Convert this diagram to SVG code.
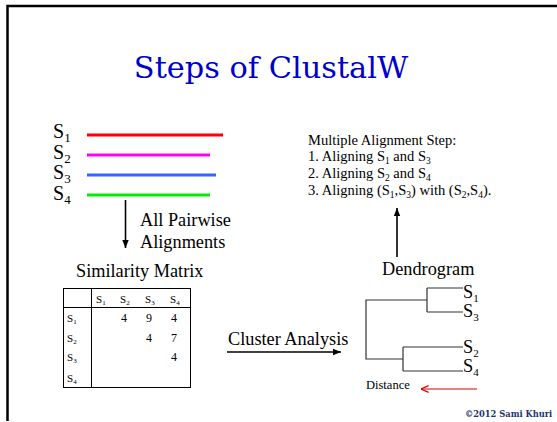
<svg xmlns="http://www.w3.org/2000/svg" width="557" height="422" viewBox="0 0 557 422">
  <style>
    text { font-family: "Liberation Serif", "Times New Roman", serif; fill: #000; }
    text.title { font-family: "DejaVu Serif", "Liberation Serif", serif; fill: #0000cc; font-size: 30.4px; }
    .lbl { font-size: 20px; }
    .mid { font-size: 18.3px; }
    .small { font-size: 14.5px; }
    .tbl { font-size: 12px; }
    .th { font-size: 11px; }
    .seq { stroke-width: 3; fill: none; }
    .tree { stroke: #333; stroke-width: 1.2; fill: none; }
    .conn { stroke: #000; stroke-width: 1.6; fill: none; }
    .grid { stroke: #000; stroke-width: 1; fill: none; }
    text.copy { font-family: "DejaVu Serif", "Liberation Serif", serif; font-size: 8.3px; font-weight: bold; fill: #1a3470; }
  </style>
  <defs>
    <marker id="ahead" viewBox="0 0 10 10" refX="10" refY="5" markerWidth="5" markerHeight="5" orient="auto">
      <path d="M0,1 L10,5 L0,9 Z" fill="#000"/>
    </marker>
    <marker id="ared" viewBox="0 0 10 10" refX="10" refY="5" markerWidth="7" markerHeight="7" orient="auto">
      <path d="M1,1 L10,5 L1,9" fill="none" stroke="#e00000" stroke-width="1.4"/>
    </marker>
  </defs>

  <rect width="557" height="422" fill="#fff"/>
  <!-- slide frame -->
  <path d="M7.5,421 V6 H557" fill="none" stroke="#000" stroke-width="2.5"/>

  <text class="title" x="271" y="78" text-anchor="middle">Steps of ClustalW</text>

  <!-- input sequences -->
  <g id="sequences">
    <text class="lbl" x="53" y="138">S<tspan font-size="13" dy="4">1</tspan></text>
    <text class="lbl" x="53" y="159">S<tspan font-size="13" dy="4">2</tspan></text>
    <text class="lbl" x="53" y="179">S<tspan font-size="13" dy="4">3</tspan></text>
    <text class="lbl" x="53" y="200">S<tspan font-size="13" dy="4">4</tspan></text>
    <line class="seq" x1="87" y1="135" x2="223" y2="135" stroke="#ff0000"/>
    <line class="seq" x1="87" y1="155" x2="210" y2="155" stroke="#ff00ff"/>
    <line class="seq" x1="87" y1="175" x2="216" y2="175" stroke="#3366ff"/>
    <line class="seq" x1="87" y1="195" x2="210" y2="195" stroke="#00ee00"/>
  </g>

  <g id="pairwise-label">
    <text class="mid" x="140" y="226">All Pairwise</text>
    <text class="mid" x="140" y="248">Alignments</text>
  </g>

  <!-- similarity matrix -->
  <g id="similarity-matrix">
    <text class="mid" x="76" y="277">Similarity Matrix</text>
    <rect class="grid" x="63.5" y="288.5" width="127" height="99"/>
    <line class="grid" x1="63.5" y1="307.5" x2="190.5" y2="307.5"/>
    <line class="grid" x1="91.5" y1="288.5" x2="91.5" y2="387.5"/>
    <g class="th">
      <text x="96" y="303">S<tspan font-size="7" dy="2">1</tspan></text>
      <text x="120" y="303">S<tspan font-size="7" dy="2">2</tspan></text>
      <text x="145" y="303">S<tspan font-size="7" dy="2">3</tspan></text>
      <text x="170" y="303">S<tspan font-size="7" dy="2">4</tspan></text>
      <text x="67" y="322">S<tspan font-size="7" dy="2">1</tspan></text>
      <text x="67" y="342">S<tspan font-size="7" dy="2">2</tspan></text>
      <text x="67" y="361">S<tspan font-size="7" dy="2">3</tspan></text>
      <text x="67" y="382">S<tspan font-size="7" dy="2">4</tspan></text>
    </g>
    <g class="tbl">
      <text x="121" y="322">4</text>
      <text x="146" y="322">9</text>
      <text x="171" y="322">4</text>
      <text x="146" y="342">4</text>
      <text x="171" y="342">7</text>
      <text x="171" y="361">4</text>
    </g>
  </g>

  <g id="cluster-label">
    <text class="mid" x="228" y="345">Cluster Analysis</text>
  </g>

  <!-- dendrogram -->
  <g id="dendrogram">
    <text class="mid" x="382" y="275">Dendrogram</text>
    <path class="tree" d="M427,300 H366 V359 H403 M427,288 V312 M427,288 H463 M427,312 H463 M403,347 V371 M403,347 H463 M403,371 H463"/>
    <text class="mid" x="463" y="298">S<tspan font-size="11" dy="4">1</tspan></text>
    <text class="mid" x="463" y="317">S<tspan font-size="11" dy="4">3</tspan></text>
    <text class="mid" x="463" y="353">S<tspan font-size="11" dy="4">2</tspan></text>
    <text class="mid" x="463" y="372">S<tspan font-size="11" dy="4">4</tspan></text>
    <text x="366" y="389" font-size="12.5">Distance</text>
  </g>

  <!-- multiple alignment step -->
  <g id="multiple-alignment">
    <text class="small" x="308" y="145">Multiple Alignment Step:</text>
    <text class="small" x="308" y="161">1. Aligning S<tspan font-size="9.5" dy="3">1</tspan><tspan dy="-3"> and S</tspan><tspan font-size="9.5" dy="3">3</tspan></text>
    <text class="small" x="308" y="178">2. Aligning S<tspan font-size="9.5" dy="3">2</tspan><tspan dy="-3"> and S</tspan><tspan font-size="9.5" dy="3">4</tspan></text>
    <text class="small" x="308" y="195">3. Aligning (S<tspan font-size="9.5" dy="3">1</tspan><tspan dy="-3">,S</tspan><tspan font-size="9.5" dy="3">3</tspan><tspan dy="-3">) with (S</tspan><tspan font-size="9.5" dy="3">2</tspan><tspan dy="-3">,S</tspan><tspan font-size="9.5" dy="3">4</tspan><tspan dy="-3">).</tspan></text>
  </g>

  <!-- connectors -->
  <g id="connectors">
    <line class="conn" x1="125.5" y1="200" x2="125.5" y2="248" marker-end="url(#ahead)"/>
    <line class="conn" x1="227" y1="352" x2="341" y2="352" marker-end="url(#ahead)"/>
    <line class="conn" x1="397" y1="257" x2="397" y2="208" marker-end="url(#ahead)"/>
    <line x1="477" y1="389" x2="421" y2="389" stroke="#e00000" stroke-width="1.2" marker-end="url(#ared)"/>
  </g>

  <text class="copy" x="465" y="417">©2012 Sami Khuri</text>
</svg>
